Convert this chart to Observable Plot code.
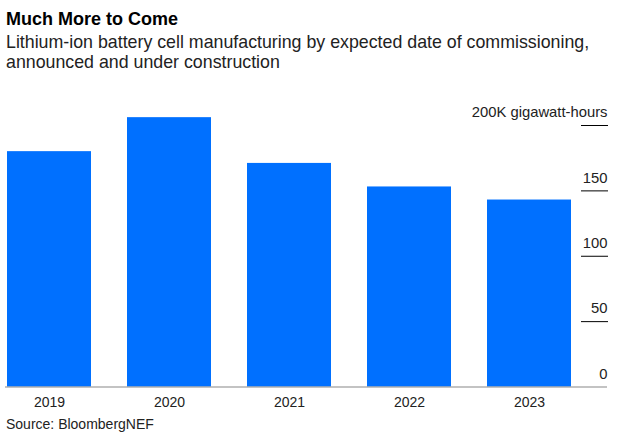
<!DOCTYPE html>
<html>
<head>
<meta charset="utf-8">
<script src="https://cdn.jsdelivr.net/npm/d3@7"></script>
<script src="https://cdn.jsdelivr.net/npm/@observablehq/plot@0.6"></script>
<style>
  html, body { margin: 0; padding: 0; background: #fff; }
  body { width: 624px; font-family: "Liberation Sans", Arial, sans-serif; }
  #title { margin: 8px 0 0 6px; font-size: 18px; font-weight: bold; line-height: 22px; color: #000; }
  #subtitle { margin: 2px 0 0 6px; font-size: 17.8px; line-height: 20px; color: #222; }
  #chart svg { display: block; }
  #caption { margin: 0 0 0 6px; font-size: 14px; line-height: 16px; color: #222; }
</style>
</head>
<body>
<div id="title">Much More to Come</div>
<div id="subtitle">Lithium-ion battery cell manufacturing by expected date of commissioning,<br>announced and under construction</div>
<div id="chart"></div>
<div id="caption">Source: BloombergNEF</div>
<script>
const years = ["2019", "2020", "2021", "2022", "2023"];
const capacity = [180, 206, 171, 153, 143]; // thousand gigawatt-hours
const yTicks = [0, 50, 100, 150, 200];
const yTickLabels = ["0", "50", "100", "150", "200K gigawatt-hours"];

const data = years.map((year, i) => ({year, value: capacity[i]}));
const tickData = yTicks.map((v, i) => ({v, label: yTickLabels[i]}));

const chart = Plot.plot({
  width: 624,
  height: 344,
  marginLeft: 5,
  marginRight: 17,
  marginTop: 53,
  marginBottom: 29.5,
  style: {fontFamily: '"Liberation Sans", Arial, sans-serif', fontSize: "14px", color: "#222", background: "#fff"},
  x: {type: "band", domain: years, range: [6, 572], paddingInner: 0.3, paddingOuter: 0, align: 0.5, axis: null},
  y: {domain: [0, 200], axis: null},
  marks: [
    Plot.barY(data, {x: "year", y: "value", fill: "#0070ff"}),
    Plot.axisX({anchor: "bottom", tickSize: 0, tickPadding: 10, fontSize: 14, label: null}),
    Plot.axisY(yTicks.filter(d => d > 0), {anchor: "right", tickSize: 27, dx: -27, tickFormat: () => "", stroke: "#000", label: null}),
    Plot.ruleY([0], {stroke: "#888", strokeWidth: 1.2}),
    Plot.text(tickData, {y: "v", text: "label", frameAnchor: "right", textAnchor: "end", dy: -13, fontSize: 14.8, fill: "#222"})
  ]
});
document.getElementById("chart").appendChild(chart);
</script>
</body>
</html>
